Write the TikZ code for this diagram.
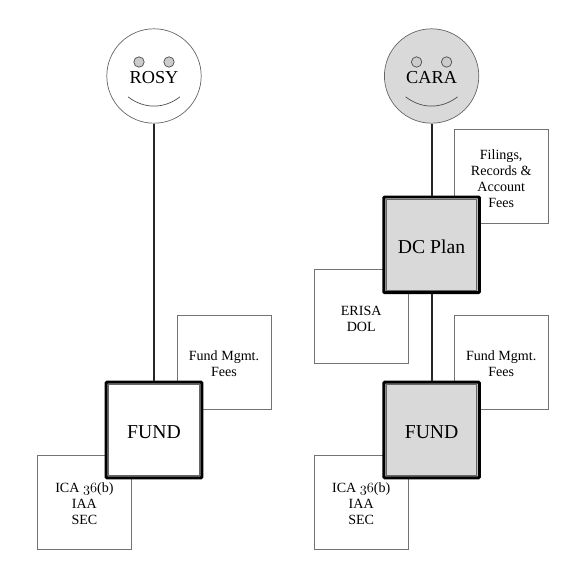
\documentclass[tikz,border=0pt]{standalone}
\usepackage{fontspec}
\setmainfont{Liberation Serif}
\newcommand{\oldnum}[1]{{\fontencoding{OML}\fontfamily{cmm}\fontseries{m}\fontshape{it}\selectfont #1}}
\newcommand{\topgap}{\rule{0pt}{9.6pt}}
\tikzset{
  feebox/.style={rectangle, draw=black!55, line width=0.5pt, fill=white, minimum size=2.35cm, align=center, inner sep=0pt, font=\fontsize{10}{11.4}\selectfont},
  mainbox/.style={rectangle, draw=black, line width=2.1pt, rounded corners=0.6pt, minimum size=2.39cm, inner sep=0pt, text height=0.43cm, font=\fontsize{14}{16}\selectfont},
  innerline/.style={draw=black!60, line width=0.7pt},
  face/.style={circle, draw=black!60, line width=0.5pt, minimum size=2.36cm, inner sep=0pt, text height=0.4cm, font=\fontsize{13}{15}\selectfont},
  eye/.style={circle, draw=black!70, line width=0.5pt, fill=black!20, minimum size=0.26cm, inner sep=0pt},
  link/.style={draw=black!85, line width=1.3pt},
}
\begin{document}
\begin{tikzpicture}
  \useasboundingbox (0,0) rectangle (14.45,14.45);

  % rules and fees behind the left stack
  \node[feebox] (mgmtl) at (5.6,5.4) {\topgap Fund Mgmt.\\Fees};
  \node[feebox] (rulesl) at (2.11,1.9) {\topgap ICA \oldnum{36}(b)\\IAA\\SEC};

  % rules and fees behind the right stack
  \node[feebox] (filings) at (12.53,10.04) {\topgap Filings,\\Records \&\\Account\\Fees};
  \node[feebox] (erisa) at (9.03,6.54) {\topgap ERISA\\DOL};
  \node[feebox] (mgmtr) at (12.53,5.4) {\topgap Fund Mgmt.\\Fees};
  \node[feebox] (rulesr) at (9.03,1.9) {\topgap ICA \oldnum{36}(b)\\IAA\\SEC};

  % main boxes
  \node[mainbox, fill=white] (fundl) at (3.85,3.7) {FUND};
  \node[mainbox, fill=black!15] (plan) at (10.79,8.33) {DC Plan};
  \node[mainbox, fill=black!15] (fundr) at (10.79,3.7) {FUND};
  \foreach \n in {fundl,plan,fundr}
    \draw[innerline] ([shift={(0.1,-0.1)}]\n.north west) rectangle ([shift={(-0.1,0.1)}]\n.south east);

  % the two faces
  \node[face] (rosy) at (3.85,12.55) {ROSY};
  \node[face, fill=black!15] (cara) at (10.79,12.55) {CARA};
  \foreach \f in {rosy,cara} {
    \node[eye] (\f-eyel) at ([shift={(-0.375,0.35)}]\f.center) {};
    \node[eye] (\f-eyer) at ([shift={(0.375,0.35)}]\f.center) {};
    \draw[draw=black!70, line width=0.5pt] ([shift={(-0.65,-0.52)}]\f.center) .. controls ([shift={(-0.25,-0.83)}]\f.center) and ([shift={(0.25,-0.83)}]\f.center) .. ([shift={(0.65,-0.52)}]\f.center);
  }

  % connectors
  \draw[link] (rosy) -- (fundl);
  \draw[link] (cara) -- (plan);
  \draw[link] (plan) -- (fundr);
\end{tikzpicture}
\end{document}
